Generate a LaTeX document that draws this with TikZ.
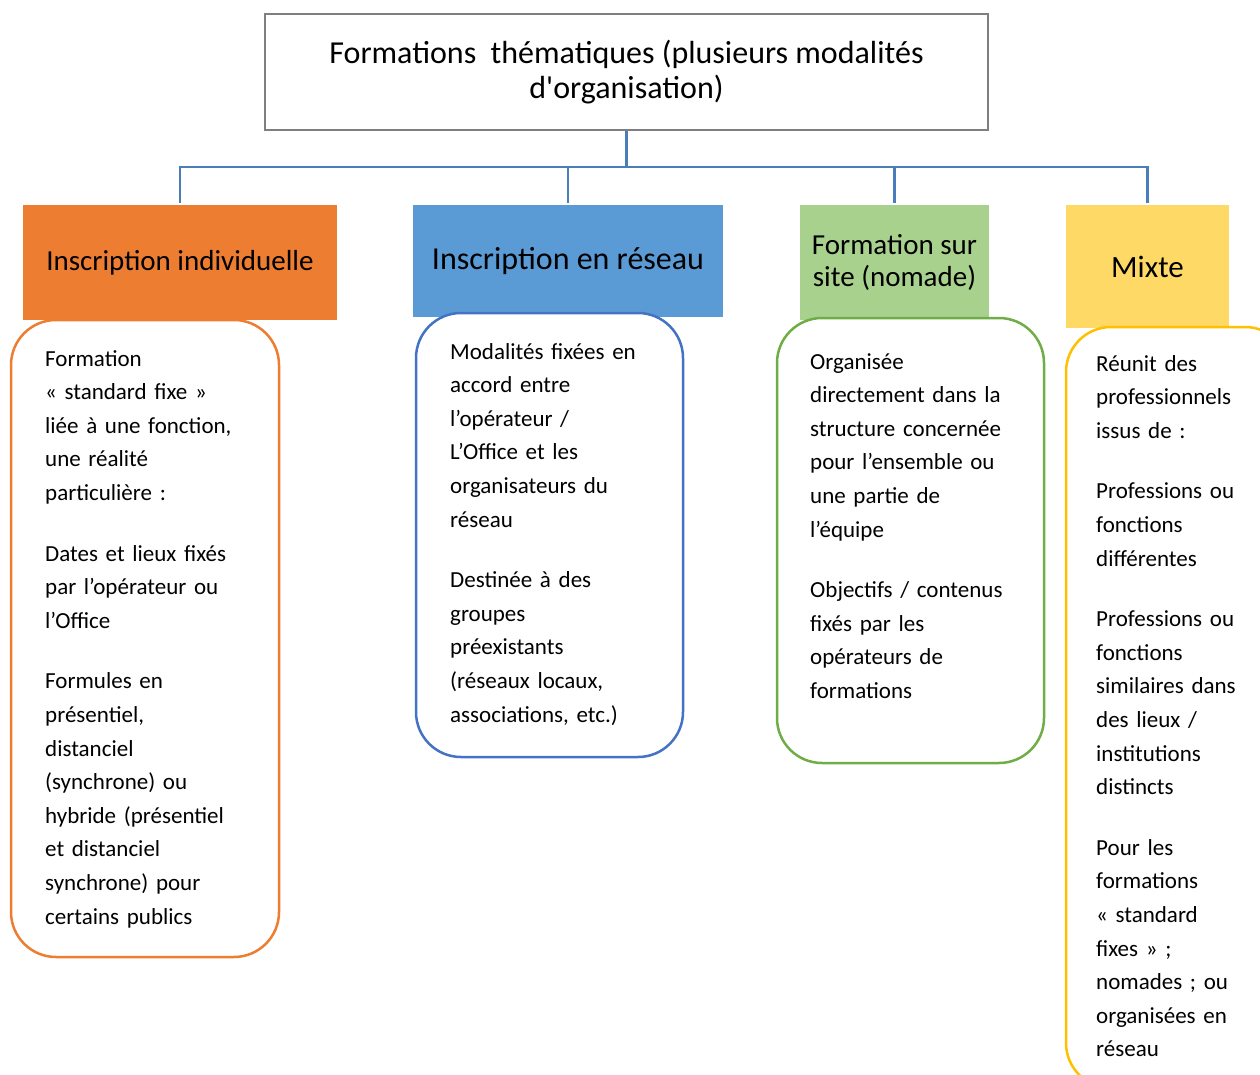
\documentclass[tikz,border=0pt]{standalone}
\usepackage{fontspec}
\setmainfont{Carlito}
\definecolor{topgray}{HTML}{7F7F7F}
\definecolor{connblue}{HTML}{4A7EBB}
\definecolor{orF}{HTML}{ED7D31}
\definecolor{blF}{HTML}{5B9BD5}
\definecolor{grF}{HTML}{A9D18E}
\definecolor{yeF}{HTML}{FFD966}
\definecolor{orL}{HTML}{ED7D31}
\definecolor{blL}{HTML}{4472C4}
\definecolor{grL}{HTML}{70AD47}
\definecolor{yeL}{HTML}{FFC000}
\begin{document}
\begin{tikzpicture}[x=1pt,y=-1pt,
  hdr/.style={rectangle, inner sep=0pt, align=center},
  rbox/.style={rectangle, rounded corners=45pt, line width=2.5pt, inner sep=0pt, fill=white},
  body/.style={anchor=base west, inner sep=0pt, text width=260pt, align=left, font=\fontsize{23}{33.6}\selectfont},
  conn/.style={draw=connblue, line width=2.5pt}]
\useasboundingbox (0,0) rectangle (1260,1075);
\clip (0,0) rectangle (1260,1075);

\node[draw=topgray, line width=2.5pt, minimum width=723pt, minimum height=116pt, inner sep=0pt, align=center, font=\fontsize{32}{35}\selectfont] (top) at (626.5,72) {Formations\ \ thématiques (plusieurs modalités\\d\textquotesingle organisation)};

\node[hdr, fill=orF, minimum width=314pt, minimum height=115pt, font=\fontsize{29}{32}\selectfont] (h1) at (180,262.5) {Inscription individuelle};
\node[hdr, fill=blF, minimum width=310pt, minimum height=112pt, font=\fontsize{32}{32}\selectfont] (h2) at (568,261) {Inscription en réseau};
\node[hdr, fill=grF, minimum width=189pt, minimum height=115pt, font=\fontsize{29}{32}\selectfont] (h3) at (894.5,262.5) {Formation sur\\site (nomade)};
\node[hdr, fill=yeF, minimum width=163pt, minimum height=123pt, font=\fontsize{31}{32}\selectfont] (h4) at (1147.5,266.5) {Mixte};

\coordinate (bus) at (626.5,167);
\draw[conn] (top.south) -- (bus);
\draw[conn] (bus) -| ([yshift=2pt]h1.north);
\draw[conn] (bus) -| ([yshift=2pt]h2.north);
\draw[conn] (bus) -| ([yshift=2pt]h3.north);
\draw[conn] (bus) -| ([yshift=2pt]h4.north);

\node[rbox, draw=orL, minimum width=268pt, minimum height=637pt] (b1) at (145,638.5) {};
\node[rbox, draw=blL, minimum width=267pt, minimum height=444pt] (b2) at (549.5,535) {};
\node[rbox, draw=grL, minimum width=267pt, minimum height=445pt] (b3) at (910.5,540.5) {};
\node[rbox, draw=yeL, minimum width=224pt, minimum height=761pt] (b4) at (1178,707.5) {};

\node[body] (t1) at (45,366) {Formation\\
« standard fixe »\\
liée à une fonction,\\
une réalité\\
particulière :\\[27pt]
Dates et lieux fixés\\
par l’opérateur ou\\
l’Office\\[27pt]
Formules en\\
présentiel,\\
distanciel\\
(synchrone) ou\\
hybride (présentiel\\
et distanciel\\
synchrone) pour\\
certains publics};

\node[body] (t2) at (450,359) {Modalités fixées en\\
accord entre\\
l’opérateur /\\
L’Office et les\\
organisateurs du\\
réseau\\[27pt]
Destinée à des\\
groupes\\
préexistants\\
(réseaux locaux,\\
associations, etc.)};

\node[body] (t3) at (810,369) {Organisée\\
directement dans la\\
structure concernée\\
pour l’ensemble ou\\
une partie de\\
l’équipe\\[27pt]
Objectifs / contenus\\
fixés par les\\
opérateurs de\\
formations};

\node[body] (t4) at (1096,371) {Réunit des\\
professionnels\\
issus de :\\[27pt]
Professions ou\\
fonctions\\
différentes\\[27pt]
Professions ou\\
fonctions\\
similaires dans\\
des lieux /\\
institutions\\
distincts\\[27pt]
Pour les\\
formations\\
« standard\\
fixes » ;\\
nomades ; ou\\
organisées en\\
réseau};
\end{tikzpicture}
\end{document}
